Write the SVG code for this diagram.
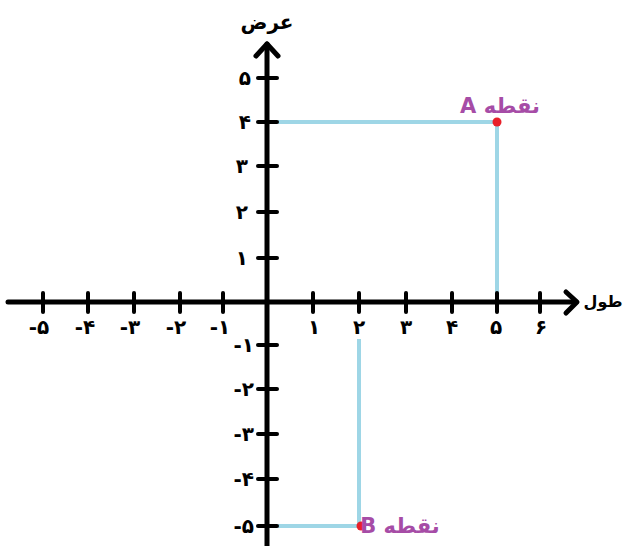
<svg xmlns="http://www.w3.org/2000/svg" width="625" height="546" viewBox="0 0 625 546">
<style>
.ax{stroke:#000;stroke-width:5;fill:none;stroke-linecap:round;stroke-linejoin:round}
.tk{stroke:#000;stroke-width:4;stroke-linecap:round}
.gl{stroke:#9ED6E6;stroke-width:4;fill:none}
.lb{font-family:"DejaVu Sans",sans-serif;font-weight:bold;font-size:20px;fill:#000}
.ttl{font-family:"DejaVu Sans",sans-serif;font-weight:bold;font-size:20px;fill:#000}
.ttl2{font-family:"DejaVu Sans",sans-serif;font-weight:bold;font-size:16px;fill:#000}
.pt{font-family:"DejaVu Sans",sans-serif;font-weight:bold;font-size:21px;fill:#A64CA6}
</style>
<rect width="625" height="546" fill="#fff"/>
<g id="guides">
<polyline class="gl" points="278,122 497,122 497,293"/>
<polyline class="gl" points="278,526 359,526 359,339"/>
</g>
<g id="axes">
<line class="ax" x1="8" y1="302" x2="576" y2="302"/>
<polyline class="ax" points="566,292 577,302 566,313"/>
<line class="ax" x1="267" y1="44" x2="267" y2="550"/>
<polyline class="ax" points="256,56 267,44 278,56"/>
</g>
<g id="xticks">
<line class="tk" x1="43" y1="293" x2="43" y2="312"/>
<line class="tk" x1="88" y1="293" x2="88" y2="312"/>
<line class="tk" x1="134" y1="293" x2="134" y2="312"/>
<line class="tk" x1="180" y1="293" x2="180" y2="312"/>
<line class="tk" x1="223" y1="293" x2="223" y2="312"/>
<line class="tk" x1="313" y1="293" x2="313" y2="312"/>
<line class="tk" x1="359" y1="293" x2="359" y2="312"/>
<line class="tk" x1="406" y1="293" x2="406" y2="312"/>
<line class="tk" x1="452" y1="293" x2="452" y2="312"/>
<line class="tk" x1="497" y1="293" x2="497" y2="312"/>
<line class="tk" x1="540" y1="293" x2="540" y2="312"/>
</g>
<g id="yticks">
<line class="tk" x1="258" y1="78" x2="277" y2="78"/>
<line class="tk" x1="258" y1="122" x2="277" y2="122"/>
<line class="tk" x1="258" y1="166" x2="277" y2="166"/>
<line class="tk" x1="258" y1="212" x2="277" y2="212"/>
<line class="tk" x1="258" y1="258" x2="277" y2="258"/>
<line class="tk" x1="258" y1="345" x2="277" y2="345"/>
<line class="tk" x1="258" y1="389" x2="277" y2="389"/>
<line class="tk" x1="258" y1="434" x2="277" y2="434"/>
<line class="tk" x1="258" y1="479" x2="277" y2="479"/>
<line class="tk" x1="258" y1="526" x2="277" y2="526"/>
</g>
<g id="xlabels" class="lb" text-anchor="middle">
<text x="39" y="334">-۵</text>
<text x="85" y="334">-۴</text>
<text x="130" y="334">-۳</text>
<text x="176" y="334">-۲</text>
<text x="220" y="334">-۱</text>
<text x="314" y="334">۱</text>
<text x="359" y="334">۲</text>
<text x="406" y="334">۳</text>
<text x="452" y="334">۴</text>
<text x="496" y="334">۵</text>
<text x="541" y="334">۶</text>
</g>
<g id="ylabels" class="lb" text-anchor="end">
<text x="251" y="85">۵</text>
<text x="251" y="129">۴</text>
<text x="248" y="173">۳</text>
<text x="248" y="219">۲</text>
<text x="248" y="265">۱</text>
<text x="254" y="352">-۱</text>
<text x="254" y="396">-۲</text>
<text x="254" y="441">-۳</text>
<text x="254" y="486">-۴</text>
<text x="254" y="533">-۵</text>
</g>
<g id="axis-titles">
<text class="ttl" x="267" y="29" text-anchor="middle">عرض</text>
<text class="ttl2" x="603" y="307" text-anchor="middle">طول</text>
</g>
<g id="pointA">
<circle cx="497" cy="122" r="4.5" fill="#E8202A"/>
<text class="pt" x="500" y="113" text-anchor="middle" direction="rtl">نقطه A</text>
</g>
<g id="pointB">
<circle cx="361" cy="526" r="4.5" fill="#E8202A"/>
<text class="pt" x="400" y="533" text-anchor="middle" direction="rtl">نقطه B</text>
</g>
</svg>
